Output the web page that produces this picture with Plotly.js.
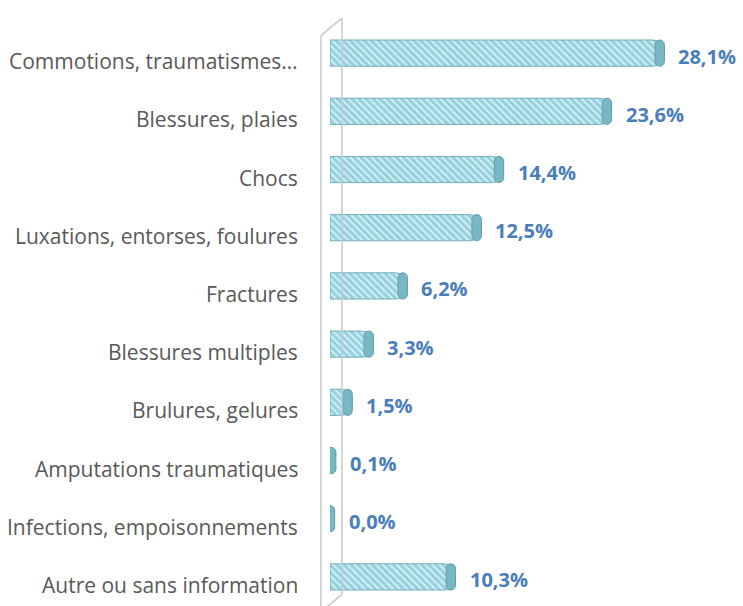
<!DOCTYPE html>
<html>
<head>
<meta charset="utf-8">
<script src="https://cdn.plot.ly/plotly-3.0.1.min.js"></script>
<style>html,body{margin:0;padding:0;background:#fff;}#chart{width:743px;height:606px;}</style>
</head>
<body>
<div id="chart"></div>
<script>
const categories = [
  "Commotions, traumatismes…",
  "Blessures, plaies",
  "Chocs",
  "Luxations, entorses, foulures",
  "Fractures",
  "Blessures multiples",
  "Brulures, gelures",
  "Amputations traumatiques",
  "Infections, empoisonnements",
  "Autre ou sans information"
];
const values = [28.1, 23.6, 14.4, 12.5, 6.2, 3.3, 1.5, 0.1, 0.0, 10.3];
const valueLabels = ["28,1%", "23,6%", "14,4%", "12,5%", "6,2%", "3,3%", "1,5%", "0,1%", "0,0%", "10,3%"];

const capWidth = 0.8;

const barTrace = {
  type: "bar",
  orientation: "h",
  y: categories,
  x: values,
  width: 0.45,
  marker: {
    color: "#9dd6e2",
    line: {color: "#72adb9", width: 1},
    pattern: {shape: "\\", fgcolor: "#d4f0f5", bgcolor: "#94d0dd", size: 5, solidity: 0.4}
  },
  hoverinfo: "skip"
};

const capTrace = {
  type: "bar",
  orientation: "h",
  y: categories,
  x: values.map(() => capWidth),
  base: values.map(v => v - capWidth / 2),
  width: 0.45,
  marker: {color: "#78b8c4", line: {color: "#5f9ea9", width: 1}},
  hoverinfo: "skip"
};

const valueAnnotations = categories.map((c, i) => ({
  x: values[i] + capWidth / 2,
  y: c,
  xref: "x",
  yref: "y",
  text: "<b>" + valueLabels[i] + "</b>",
  showarrow: false,
  xanchor: "left",
  xshift: 12,
  yshift: -3,
  font: {family: "Open Sans, sans-serif", size: 20, color: "#4a7ebb"}
}));

const categoryAnnotations = categories.map(c => ({
  x: 0,
  y: c,
  xref: "paper",
  yref: "y",
  text: c,
  showarrow: false,
  xanchor: "right",
  xshift: -30,
  yshift: -8,
  font: {family: "Open Sans, sans-serif", size: 21, color: "#595959"}
}));

const shapes = [
  {type: "line", xref: "paper", yref: "paper", x0: -0.022, x1: -0.022, y0: -0.01, y1: 0.98, line: {color: "#c8c8c8", width: 1.5}},
  {type: "line", xref: "paper", yref: "paper", x0: 0.029, x1: 0.029, y0: 0.02, y1: 1.01, line: {color: "#c8c8c8", width: 1.5}},
  {type: "line", xref: "paper", yref: "paper", x0: -0.022, x1: 0.029, y0: 0.98, y1: 1.01, line: {color: "#c8c8c8", width: 1.5}},
  {type: "line", xref: "paper", yref: "paper", x0: -0.022, x1: 0.029, y0: -0.01, y1: 0.02, line: {color: "#c8c8c8", width: 1.5}}
];

const layout = {
  width: 743,
  height: 606,
  margin: {l: 330, r: 0, t: 24, b: 0},
  paper_bgcolor: "#ffffff",
  plot_bgcolor: "#ffffff",
  barmode: "overlay",
  barcornerradius: 12,
  showlegend: false,
  xaxis: {range: [0, 35.2], visible: false, fixedrange: true},
  yaxis: {
    autorange: "reversed",
    showgrid: false,
    zeroline: false,
    showline: false,
    ticks: "",
    showticklabels: false
  },
  annotations: categoryAnnotations.concat(valueAnnotations),
  shapes: shapes
};

Plotly.newPlot("chart", [barTrace, capTrace], layout, {displayModeBar: false, staticPlot: true});
</script>
</body>
</html>
